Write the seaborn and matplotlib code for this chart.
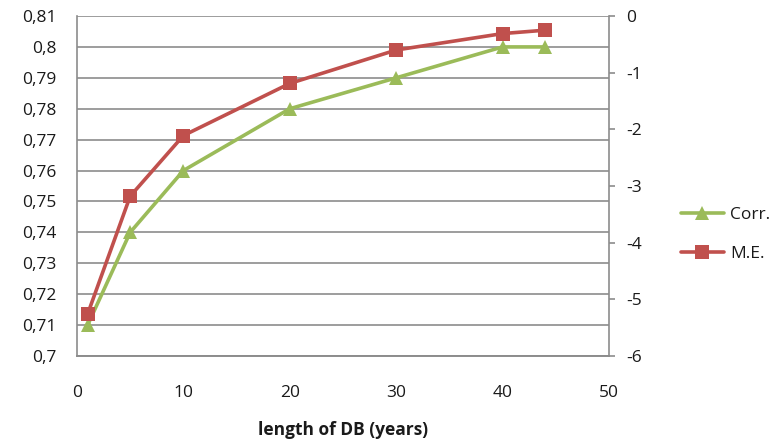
import matplotlib
matplotlib.use("Agg")
import matplotlib.pyplot as plt
import matplotlib.ticker as mticker
from matplotlib.lines import Line2D
import pandas as pd
import seaborn as sns

# Database length (years) and the two quality measures
years = [1, 5, 10, 20, 30, 40, 44]
corr = [0.71, 0.74, 0.76, 0.78, 0.79, 0.80, 0.80]
mean_error = [-5.26, -3.18, -2.11, -1.19, -0.60, -0.31, -0.25]

series_names = ["Corr.", "M.E."]
left_ticks = [0.70, 0.71, 0.72, 0.73, 0.74, 0.75, 0.76, 0.77, 0.78, 0.79, 0.80, 0.81]
right_ticks = [-6, -5, -4, -3, -2, -1, 0]
x_ticks = [0, 10, 20, 30, 40, 50]

df = pd.DataFrame({"years": years, "corr": corr, "me": mean_error})

sns.set_style("white")
plt.rcParams["font.family"] = ["Open Sans", "DejaVu Sans"]

GREEN = "#9BBB59"
RED = "#C0504D"
GRID = "#8c8c8c"
TEXT = "#1a1a1a"
FS = 12.5

fig = plt.figure(figsize=(7.76, 4.46), dpi=100)
ax = fig.add_axes([0.0992, 0.2018, 0.6856, 0.7623])
ax2 = ax.twinx()

sns.lineplot(data=df, x="years", y="corr", ax=ax, color=GREEN, linewidth=2.6,
             marker="^", markersize=10, markeredgewidth=0, legend=False)
sns.lineplot(data=df, x="years", y="me", ax=ax2, color=RED, linewidth=2.6,
             marker="s", markersize=9.5, markeredgewidth=0, legend=False)

ax.set_xlim(0, 50)
ax.set_xticks(x_ticks)
ax.set_ylim(0.70, 0.81)
ax.set_yticks(left_ticks)
ax2.set_ylim(-6, 0)
ax2.set_yticks(right_ticks)

ax.yaxis.set_major_formatter(
    mticker.FuncFormatter(lambda v, p: ("%g" % round(v, 2)).replace(".", ",")))
ax2.yaxis.set_major_formatter(mticker.FuncFormatter(lambda v, p: "%d" % v))

ax.yaxis.grid(True, color=GRID, linewidth=1.2)
ax.xaxis.grid(False)
ax.set_axisbelow(True)

for a in (ax, ax2):
    a.spines["top"].set_visible(False)
    for s in ("left", "bottom", "right"):
        a.spines[s].set_color(GRID)
        a.spines[s].set_linewidth(1.2)
ax.spines["right"].set_visible(False)
ax2.spines["left"].set_visible(False)

ax.tick_params(axis="y", length=0, pad=15, labelsize=FS, labelcolor=TEXT)
ax.tick_params(axis="x", length=0, pad=21, labelsize=FS, labelcolor=TEXT)
ax2.tick_params(axis="y", length=4.5, width=1.2, color=GRID, pad=8,
                labelsize=FS, labelcolor=TEXT)

ax.set_xlabel("length of DB (years)", fontsize=12.5, fontweight="bold",
              color=TEXT, labelpad=14)
ax.set_ylabel("")
ax2.set_ylabel("")

handles = [
    Line2D([], [], color=GREEN, linewidth=2.6, marker="^", markersize=10,
           markeredgewidth=0),
    Line2D([], [], color=RED, linewidth=2.6, marker="s", markersize=9.5,
           markeredgewidth=0),
]
fig.legend(handles, series_names, loc="center left",
           bbox_to_anchor=(0.857, 0.475), frameon=False, fontsize=FS,
           handlelength=2.5, handletextpad=0.35, labelspacing=1.3,
           labelcolor=TEXT)

fig.savefig("out.png", dpi=100)
